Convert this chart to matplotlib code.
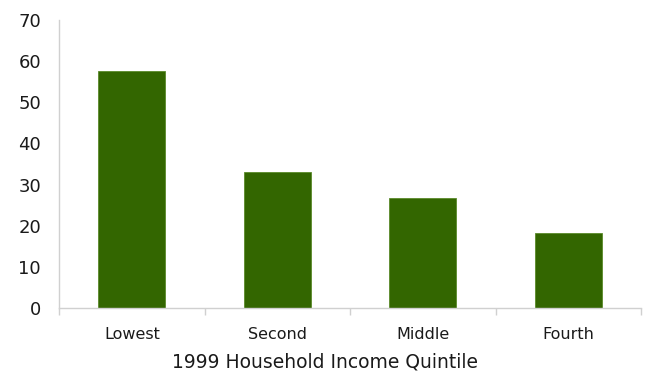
import numpy as np
import matplotlib.pyplot as plt

# Share by 1999 household income quintile
quintiles = ["Lowest", "Second", "Middle", "Fourth"]
values = [57.6, 33.1, 26.6, 18.2]

plt.rcParams['font.family'] = ['DejaVu Sans']

fig = plt.figure(figsize=(6.49, 3.76), dpi=100)
ax = fig.add_axes([0.091, 0.181, 0.897, 0.766])

x = np.arange(len(quintiles))
ax.bar(x, values, width=0.46, color="#336600", edgecolor="#5a8a2a", linewidth=0.6)

ax.set_xlim(-0.5, len(quintiles) - 0.5)
ax.set_ylim(0, 70)
ax.set_yticks(range(0, 71, 10))
ax.tick_params(axis="y", length=0, labelsize=13, pad=13, colors="#1a1a1a")

ax.set_xticks(x)
ax.set_xticklabels(quintiles)
ax.tick_params(axis="x", which="major", length=0, labelsize=11.5, pad=14, colors="#1a1a1a")
ax.set_xticks(np.arange(-0.5, len(quintiles)), minor=True)
ax.tick_params(axis="x", which="minor", length=5, color="#d0d0d0", width=1)

for side in ("top", "right"):
    ax.spines[side].set_visible(False)
for side in ("left", "bottom"):
    ax.spines[side].set_color("#d0d0d0")
    ax.spines[side].set_linewidth(1)

# axis title sits centred on the figure rather than the plot area
ax.set_xlabel("1999 Household Income Quintile", fontsize=13.5, labelpad=7, color="#1a1a1a")
ax.xaxis.label.set_x(0.456)

fig.savefig("out.png", dpi=100)
